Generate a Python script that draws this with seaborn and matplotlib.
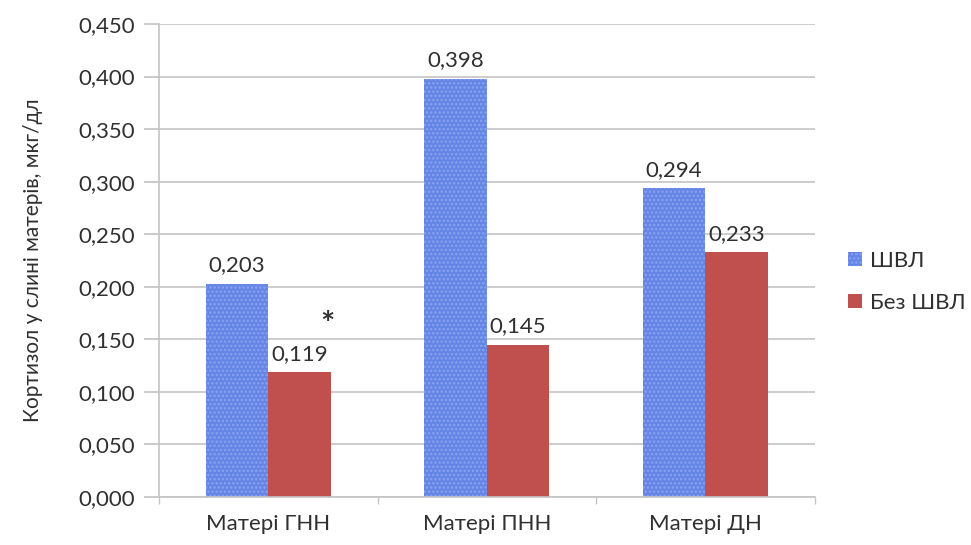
import matplotlib
matplotlib.use("Agg")
import matplotlib.pyplot as plt
import seaborn as sns
import pandas as pd
from matplotlib.patches import Patch
from matplotlib.ticker import MultipleLocator, FuncFormatter, FixedLocator

groups = ["Матері ГНН", "Матері ПНН", "Матері ДН"]
series = ["ШВЛ", "Без ШВЛ"]
shvl = [0.203, 0.398, 0.294]
bez_shvl = [0.119, 0.145, 0.233]
y_label = "Кортизол у слині матерів, мкг/дл"

df = pd.DataFrame({
    "group": groups * 2,
    "series": [series[0]] * 3 + [series[1]] * 3,
    "value": shvl + bez_shvl,
})

sns.set_theme(style="white")
plt.rcParams["font.family"] = ["Lato", "DejaVu Sans"]
plt.rcParams["hatch.linewidth"] = 1.2

blue = "#6585E6"
blue_dots = "#8AA3F0"
red = "#C0504D"
grid_c = "#C4C4C4"
text_c = "#303030"
fs = 16

fig = plt.figure(figsize=(9.71, 5.45), dpi=100)
ax = fig.add_axes([0.1638, 0.088, 0.839 - 0.1638, 0.956 - 0.088])

sns.barplot(data=df, x="group", y="value", hue="series", order=groups,
            hue_order=series, palette=[blue, red], width=0.5714, gap=0,
            saturation=1, legend=False, ax=ax, linewidth=0)

# dotted texture on the first series
for p in ax.containers[0]:
    p.set_hatch("....")
    p.set_edgecolor(blue_dots)
    p.set_linewidth(0)

for cont, vals in zip(ax.containers, [shvl, bez_shvl]):
    ax.bar_label(cont, labels=[f"{v:.3f}".replace(".", ",") for v in vals],
                 padding=6, fontsize=fs, color=text_c)

# significance mark over the first "Без ШВЛ" bar
ax.text(0.27, 0.163, "*", fontsize=24, color=text_c, ha="center",
        va="center", fontweight="bold")

ax.set_ylim(0, 0.45)
ax.set_xlim(-0.5, 2.5)
ax.yaxis.set_major_locator(MultipleLocator(0.05))
ax.yaxis.set_major_formatter(FuncFormatter(lambda v, _: f"{v:.3f}".replace(".", ",")))
ax.grid(axis="y", color=grid_c, linewidth=1.2)
ax.set_axisbelow(True)

for s in ["top", "right"]:
    ax.spines[s].set_visible(False)
for s in ["left", "bottom"]:
    ax.spines[s].set_color(grid_c)
    ax.spines[s].set_linewidth(1.2)

ax.tick_params(axis="y", which="major", length=11, color=grid_c,
               labelsize=fs, labelcolor=text_c, pad=6, left=True)
ax.tick_params(axis="x", which="major", length=0, labelsize=fs,
               labelcolor=text_c, pad=12)
ax.xaxis.set_minor_locator(FixedLocator([-0.5, 0.5, 1.5, 2.5]))
ax.tick_params(axis="x", which="minor", length=5, color=grid_c,
               direction="out", bottom=True)
ax.set_xlabel("")
ax.set_ylabel(y_label, fontsize=15, color=text_c, labelpad=26)

handles = [Patch(facecolor=blue, edgecolor=blue_dots, hatch="....", linewidth=0),
           Patch(facecolor=red, linewidth=0)]
fig.legend(handles, series, loc="center left", bbox_to_anchor=(0.853, 0.483),
           frameon=False, fontsize=fs, handlelength=0.6, handleheight=0.6,
           handletextpad=0.4, labelspacing=1.0, labelcolor=text_c)

fig.savefig("out.png", dpi=100, facecolor="white")
